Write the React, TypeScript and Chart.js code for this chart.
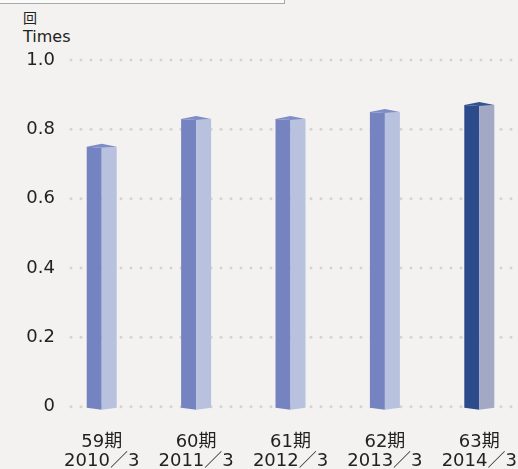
import React, { useEffect, useRef } from "react";
import { Chart, registerables } from "chart.js";

Chart.register(...registerables);

const periods = ["59期", "60期", "61期", "62期", "63期"];
const years = ["2010／3", "2011／3", "2012／3", "2013／3", "2014／3"];
const values = [0.75, 0.83, 0.83, 0.85, 0.87];
const yTicks = [0, 0.2, 0.4, 0.6, 0.8, 1.0];

const leftColors = ["#7584c0", "#7584c0", "#7584c0", "#7584c0", "#2b4b8b"];
const rightColors = ["#b8c2de", "#b8c2de", "#b8c2de", "#b8c2de", "#a3a9c5"];
const capColors = ["#7e8cc7", "#7e8cc7", "#7e8cc7", "#7e8cc7", "#33538f"];

const dotGrid = {
  id: "dotGrid",
  beforeDatasetsDraw(chart: any) {
    const { ctx, chartArea, scales } = chart;
    ctx.save();
    ctx.fillStyle = "#d8d2cc";
    yTicks.forEach((t) => {
      const y = scales.y.getPixelForValue(t);
      for (let x = chartArea.left + 1; x <= chartArea.right; x += 10) {
        ctx.beginPath();
        ctx.arc(x, y, 1.5, 0, Math.PI * 2);
        ctx.fill();
      }
    });
    ctx.restore();
  },
};

const bars3d = {
  id: "bars3d",
  afterDatasetsDraw(chart: any) {
    const { ctx } = chart;
    const meta = chart.getDatasetMeta(0);
    ctx.save();
    meta.data.forEach((el: any, i: number) => {
      const w = el.width;
      const L = el.x - w / 2;
      const R = el.x + w / 2;
      const C = el.x;
      const top = el.y;
      const base = el.base;
      ctx.fillStyle = leftColors[i];
      ctx.beginPath();
      ctx.moveTo(L, top);
      ctx.lineTo(C, top + 1);
      ctx.lineTo(C, base + 3);
      ctx.lineTo(L, base + 1);
      ctx.closePath();
      ctx.fill();
      ctx.fillStyle = rightColors[i];
      ctx.beginPath();
      ctx.moveTo(C, top + 1);
      ctx.lineTo(R, top);
      ctx.lineTo(R, base + 1);
      ctx.lineTo(C, base + 3);
      ctx.closePath();
      ctx.fill();
      ctx.fillStyle = capColors[i];
      ctx.beginPath();
      ctx.moveTo(L, top);
      ctx.lineTo(C, top - 3);
      ctx.lineTo(R, top);
      ctx.lineTo(C, top + 1);
      ctx.closePath();
      ctx.fill();
    });
    ctx.restore();
  },
};

export default function App() {
  const ref = useRef<HTMLCanvasElement>(null);
  useEffect(() => {
    if (!ref.current) return;
    const chart = new Chart(ref.current, {
      type: "bar",
      data: {
        datasets: [
          {
            data: values.map((v, i) => ({ x: i, y: v })),
            backgroundColor: "rgba(0,0,0,0)",
            barThickness: 30,
          },
        ],
      },
      options: {
        animation: false,
        responsive: false,
        maintainAspectRatio: false,
        layout: { padding: { top: 60, left: 0, right: 0, bottom: 0 } },
        plugins: { legend: { display: false }, tooltip: { enabled: false } },
        scales: {
          x: {
            type: "linear",
            offset: false,
            min: -0.336,
            max: 4.41,
            grid: { display: false, drawTicks: false },
            border: { display: false },
            afterBuildTicks: (scale: any) => {
              scale.ticks = periods.map((_, i) => ({ value: i }));
            },
            afterFit: (scale: any) => {
              scale.height = 62.3;
              scale.paddingLeft = 0;
              scale.paddingRight = 0;
            },
            ticks: {
              autoSkip: false,
              maxRotation: 0,
              padding: 26.5,
              color: "#222",
              font: { family: '"DejaVu Sans", "Noto Sans CJK JP"', size: 18, lineHeight: 1.03 },
              callback: (v: any) => [periods[v], years[v]],
            },
          },
          y: {
            min: 0,
            max: 1,
            grid: { display: false, drawTicks: false },
            border: { display: false },
            afterBuildTicks: (scale: any) => {
              scale.ticks = yTicks.map((v) => ({ value: v }));
            },
            afterFit: (scale: any) => {
              scale.width = 70;
            },
            ticks: {
              padding: 15,
              color: "#222",
              font: { family: '"DejaVu Sans"', size: 18 },
              callback: (v: any) => (v === 0 ? "0" : Number(v).toFixed(1)),
            },
          },
        },
      },
      plugins: [dotGrid, bars3d],
    });
    return () => chart.destroy();
  }, []);

  return (
    <div
      style={{
        position: "fixed",
        left: 0,
        top: 0,
        width: 518,
        height: 469,
        overflow: "hidden",
        background: "#f3f2f0",
      }}
    >
      <div
        style={{
          position: "absolute",
          left: -1,
          top: -20,
          width: 284,
          height: 22,
          border: "1px solid #a8a8a8",
          background: "#fafafa",
        }}
      />
      <div
        style={{
          position: "absolute",
          left: 23,
          top: 8,
          fontFamily: '"Noto Sans CJK JP"',
          fontSize: 14,
          lineHeight: "18px",
          color: "#222",
        }}
      >
        回
      </div>
      <div
        style={{
          position: "absolute",
          left: 23,
          top: 27,
          fontFamily: '"DejaVu Sans"',
          fontSize: 16,
          lineHeight: "20px",
          color: "#222",
        }}
      >
        Times
      </div>
      <canvas
        ref={ref}
        width={518}
        height={469}
        style={{ position: "absolute", left: 0, top: 0, width: 518, height: 469 }}
      />
    </div>
  );
}
